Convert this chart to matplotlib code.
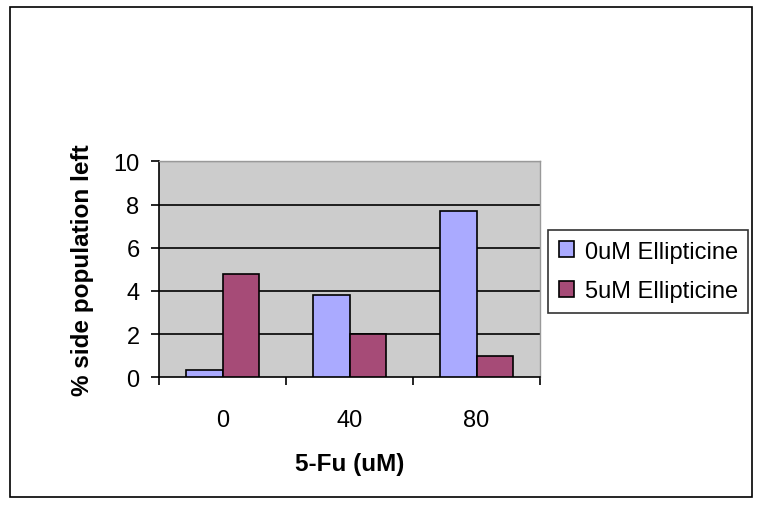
import matplotlib
matplotlib.use("Agg")
import matplotlib.pyplot as plt
from matplotlib.patches import Rectangle
import numpy as np

categories = ["0", "40", "80"]
series_names = ["0uM Ellipticine", "5uM Ellipticine"]
vals_0uM = [0.35, 3.8, 7.7]
vals_5uM = [4.8, 2.0, 1.0]
yticks = [0, 2, 4, 6, 8, 10]

plt.rcParams['font.family'] = ['Liberation Sans', 'DejaVu Sans']

W, H = 762, 510
fig = plt.figure(figsize=(W/100, H/100), dpi=100)
fig.patch.set_facecolor('white')

# outer border
fig.patches.append(Rectangle((10/W, 1-498/H), 742/W, 490/H, transform=fig.transFigure,
                             fill=False, edgecolor='black', linewidth=1.2, zorder=0))

ax = fig.add_axes([159/W, 1-378.3/H, 381/W, 216/H])
ax.set_facecolor('#CCCCCC')

x = np.arange(len(categories))
bw = 0.286
c1, c2 = '#AAAAFF', '#A64B77'
ax.bar(x - bw/2, vals_0uM, bw, color=c1, edgecolor='black', linewidth=1.2, label=series_names[0], zorder=3)
ax.bar(x + bw/2, vals_5uM, bw, color=c2, edgecolor='black', linewidth=1.2, label=series_names[1], zorder=3)

ax.set_xlim(-0.5, 2.5)
ax.set_ylim(0, 10)
ax.set_yticks(yticks)
ax.set_yticklabels([str(v) for v in yticks], fontsize=17)
for v in yticks[1:-1]:
    ax.axhline(v, color='black', linewidth=1.2, zorder=1)
ax.axhline(10, color='#999999', linewidth=1.0, zorder=1)

ax.set_xticks([-0.5, 0.5, 1.5, 2.5])
ax.set_xticklabels([])
ax.tick_params(axis='x', which='major', length=6, width=1.2, direction='out')
ax.set_xticks(x, minor=True)
ax.set_xticklabels(categories, minor=True, fontsize=17)
ax.tick_params(axis='x', which='minor', length=0, pad=23)
ax.tick_params(axis='y', length=6, width=1.2, direction='out', pad=8)

for s in ['top', 'right']:
    ax.spines[s].set_color('#999999')
    ax.spines[s].set_linewidth(1.0)
for s in ['left', 'bottom']:
    ax.spines[s].set_color('black')
    ax.spines[s].set_linewidth(1.2)

ax.set_xlabel('5-Fu (uM)', fontsize=17.5, fontweight='bold', labelpad=15)
ax.set_ylabel('% side population left', fontsize=17.5, fontweight='bold', labelpad=14)

leg = fig.legend(loc='upper left', bbox_to_anchor=(548/W, 1-231/H), borderaxespad=0,
                 fontsize=17, frameon=True, fancybox=False, edgecolor='black',
                 handlelength=0.65, handleheight=0.65, handletextpad=0.45,
                 labelspacing=0.75, borderpad=0.45)
leg.get_frame().set_linewidth(1.2)

fig.savefig('out.png', dpi=100)
